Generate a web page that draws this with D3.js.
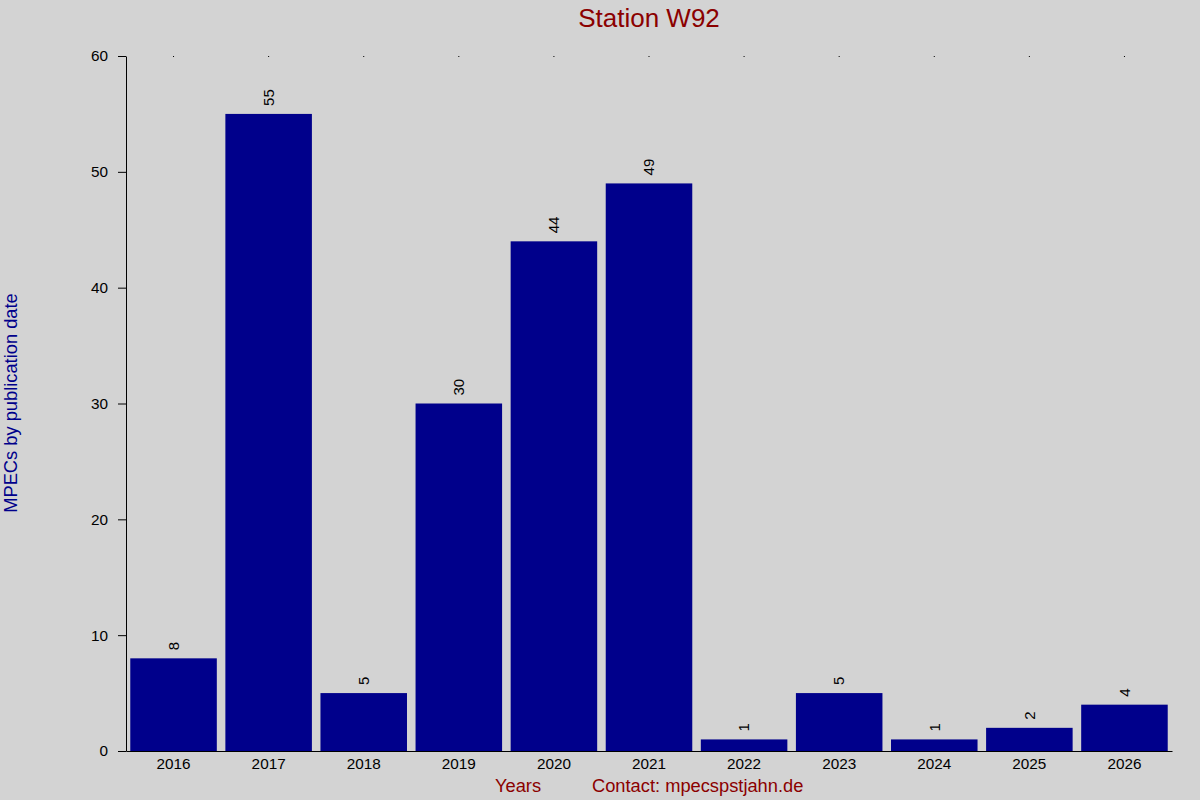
<!DOCTYPE html>
<html>
<head>
<meta charset="utf-8">
<script src="https://cdn.jsdelivr.net/npm/d3@7.9.0/dist/d3.min.js"></script>
<style>
  body { margin: 0; background: #d3d3d3; }
  svg { display: block; font-family: "Liberation Sans", Arial, sans-serif; }
</style>
</head>
<body>
<svg id="chart" width="1200" height="800"></svg>
<script>
const years = ["2016", "2017", "2018", "2019", "2020", "2021", "2022", "2023", "2024", "2025", "2026"];
const counts = [8, 55, 5, 30, 44, 49, 1, 5, 1, 2, 4];
const yTicks = [0, 10, 20, 30, 40, 50, 60];

const width = 1200;
const height = 800;
const margin = { top: 56, right: 28, bottom: 49, left: 126 };

const svg = d3.select("#chart");

svg.append("rect")
  .attr("width", width)
  .attr("height", height)
  .attr("fill", "#d3d3d3");

const x = d3.scaleBand()
  .domain(years)
  .range([margin.left, width - margin.right])
  .paddingInner(0.09)
  .paddingOuter(0.045);

const y = d3.scaleLinear()
  .domain([0, 60])
  .range([height - margin.bottom, margin.top]);

const bars = years.map((year, i) => ({ year, value: counts[i] }));

svg.append("g")
  .selectAll("rect")
  .data(bars)
  .join("rect")
  .attr("x", (d) => x(d.year))
  .attr("y", (d) => y(d.value))
  .attr("width", x.bandwidth())
  .attr("height", (d) => y(0) - y(d.value))
  .attr("fill", "#00008b");

// value labels, rotated above each bar
svg.append("g")
  .selectAll("text")
  .data(bars)
  .join("text")
  .attr("transform", (d) =>
    `translate(${x(d.year) + x.bandwidth() / 2},${y(d.value) - 8}) rotate(-90)`)
  .attr("dy", "0.35em")
  .attr("font-size", 15)
  .attr("fill", "#000")
  .text((d) => d.value);

// y axis
const yAxis = svg.append("g")
  .attr("transform", `translate(${margin.left},0)`)
  .call(d3.axisLeft(y).tickValues(yTicks).tickSize(8).tickSizeOuter(0).tickPadding(10));
yAxis.selectAll("text").attr("font-size", 15.3).attr("font-family", "Liberation Sans, Arial, sans-serif").attr("fill", "#000");
yAxis.selectAll("line, path").attr("stroke", "#000");

// x axis
const xAxis = svg.append("g")
  .attr("transform", `translate(0,${y(0)})`)
  .call(d3.axisBottom(x).tickSize(0).tickSizeOuter(0).tickPadding(7));
xAxis.selectAll("text").attr("font-size", 15.3).attr("font-family", "Liberation Sans, Arial, sans-serif").attr("fill", "#000");
xAxis.select(".domain").attr("stroke", "#000");

// tiny tick dots along the top
const topAxis = svg.append("g")
  .attr("transform", `translate(0,${margin.top})`)
  .call(d3.axisBottom(x).tickSize(1).tickFormat(""));
topAxis.select(".domain").remove();
topAxis.selectAll("line").attr("stroke", "#000");

svg.append("text")
  .attr("x", 649)
  .attr("y", 27)
  .attr("text-anchor", "middle")
  .attr("font-size", 26)
  .attr("fill", "#8b0000")
  .text("Station W92");

svg.append("text")
  .attr("transform", "translate(17,403) rotate(-90)")
  .attr("text-anchor", "middle")
  .attr("font-size", 18.3)
  .attr("fill", "#00008b")
  .text("MPECs by publication date");

svg.append("text")
  .attr("x", 495)
  .attr("y", 792)
  .attr("font-size", 18.3)
  .attr("fill", "#8b0000")
  .text("Years");

svg.append("text")
  .attr("x", 592)
  .attr("y", 792)
  .attr("font-size", 18.3)
  .attr("fill", "#8b0000")
  .text("Contact: mpecspstjahn.de");
</script>
</body>
</html>
